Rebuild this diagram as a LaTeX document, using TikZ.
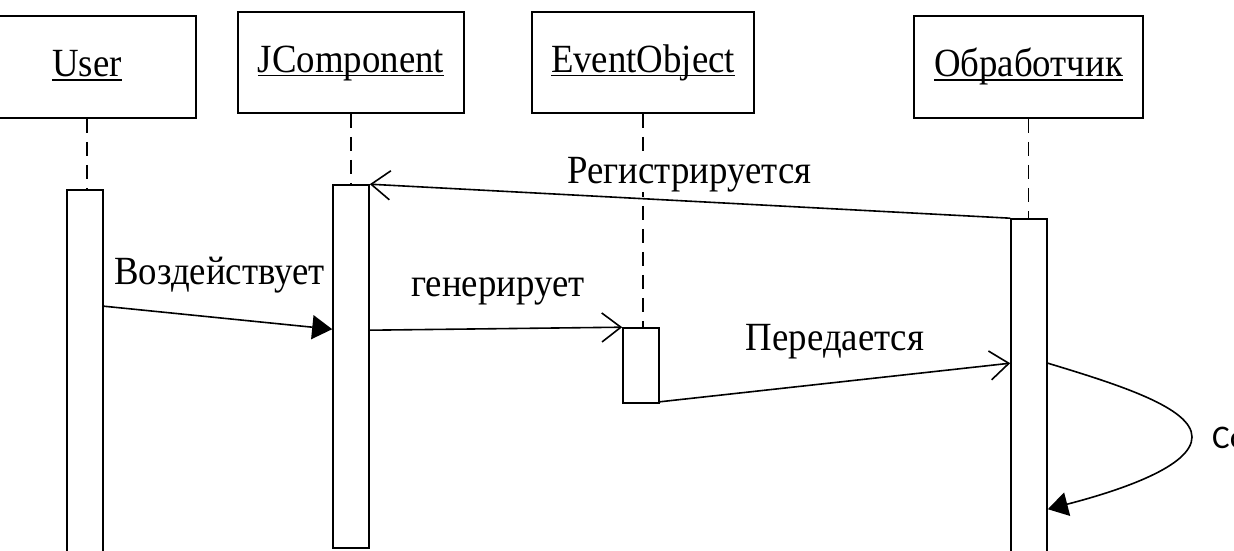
\documentclass[tikz,border=0pt]{standalone}
\usepackage{fontspec}
\setmainfont{Liberation Serif}[FakeStretch=0.92]
\newfontfamily\notefont{Carlito}
\usetikzlibrary{arrows.meta,calc}
% underlined object name, rule crossing the descenders
\newcommand\ulname[1]{\setbox0=\hbox{#1}\rlap{\rule[-4pt]{\wd0}{1.6pt}}\box0}

\begin{document}
\begin{tikzpicture}[x=1pt,y=-1pt,
  every node/.style={font=\fontsize{40}{48}\selectfont, inner sep=0pt},
  obj/.style={draw, line width=1.8pt, fill=white, text height=26pt, text depth=6pt},
  act/.style={draw, line width=1.6pt, fill=white, minimum width=36pt},
  lifeline/.style={line width=1.6pt, dash pattern=on 14pt off 9pt},
  msg/.style={line width=1.6pt},
  opentip/.style={-{Straight Barb[length=19pt,width=29pt]}},
  filledtip/.style={-{Triangle[length=20pt,width=24pt]}},
  lbl/.style={anchor=base, fill=white}
  ]
\useasboundingbox (0,0) rectangle (1234,551);
\clip (0,0) rectangle (1234,551);

% object heads
\node[obj, minimum width=218pt, minimum height=102pt] (user)    at (87,67)     {\ulname{User}};
\node[obj, minimum width=226pt, minimum height=101pt] (jcomp)   at (351,62.5)  {\ulname{JComponent}};
\node[obj, minimum width=222pt, minimum height=101pt] (evobj)   at (643,62.5)  {\ulname{EventObject}};
\node[obj, minimum width=229pt, minimum height=102pt] (handler) at (1028.5,67) {\ulname{Обработчик}};

% activation bars
\node[act, minimum height=370pt] (ua) at (85,375)     {};
\node[act, minimum height=363pt] (ja) at (351,366.5)  {};
\node[act, minimum height=75pt]  (ea) at (641,365.5)  {};
\node[act, minimum height=341pt] (ha) at (1029,389.5) {};

% lifelines
\draw[lifeline] (user.south)    -- (user.south |- ua.north);
\draw[lifeline] (jcomp.south)   -- (jcomp.south |- ja.north);
\draw[lifeline] (evobj.south)   -- (evobj.south |- ea.north);
\draw[lifeline] (handler.south) -- (handler.south |- ha.north);

% messages
\draw[msg, opentip]   (ha.north west) -- (ja.north east);
\draw[msg, filledtip] ($(ua.north east)+(0,117)$) -- ($(ja.north west)+(0,145)$);
\draw[msg, opentip]   ($(ja.north east)+(0,146)$) -- (ea.north west);
\draw[msg, opentip]   ($(ea.south east)+(0,-2)$) -- ($(ha.north west)+(0,145)$);
\draw[msg, filledtip] ($(ha.north east)+(0,145)$)
   .. controls (1120,385) and (1192,408) .. (1192,437)
   .. controls (1192,466) and (1122,490) .. ($(ha.north east)+(0,291)$);

% message labels
\node[lbl] (lreg) at (689.5,183) {Регистрируется};
\node[lbl] (lact) at (219.5,284) {Воздействует};
\node[lbl] (lgen) at (498,296)   {генерирует};
\node[lbl] (lsend) at (835,350)  {Передается};
\node[anchor=base west, font=\notefont\fontsize{33}{40}\selectfont] (lself) at (1212,448) {Со};
\end{tikzpicture}
\end{document}
